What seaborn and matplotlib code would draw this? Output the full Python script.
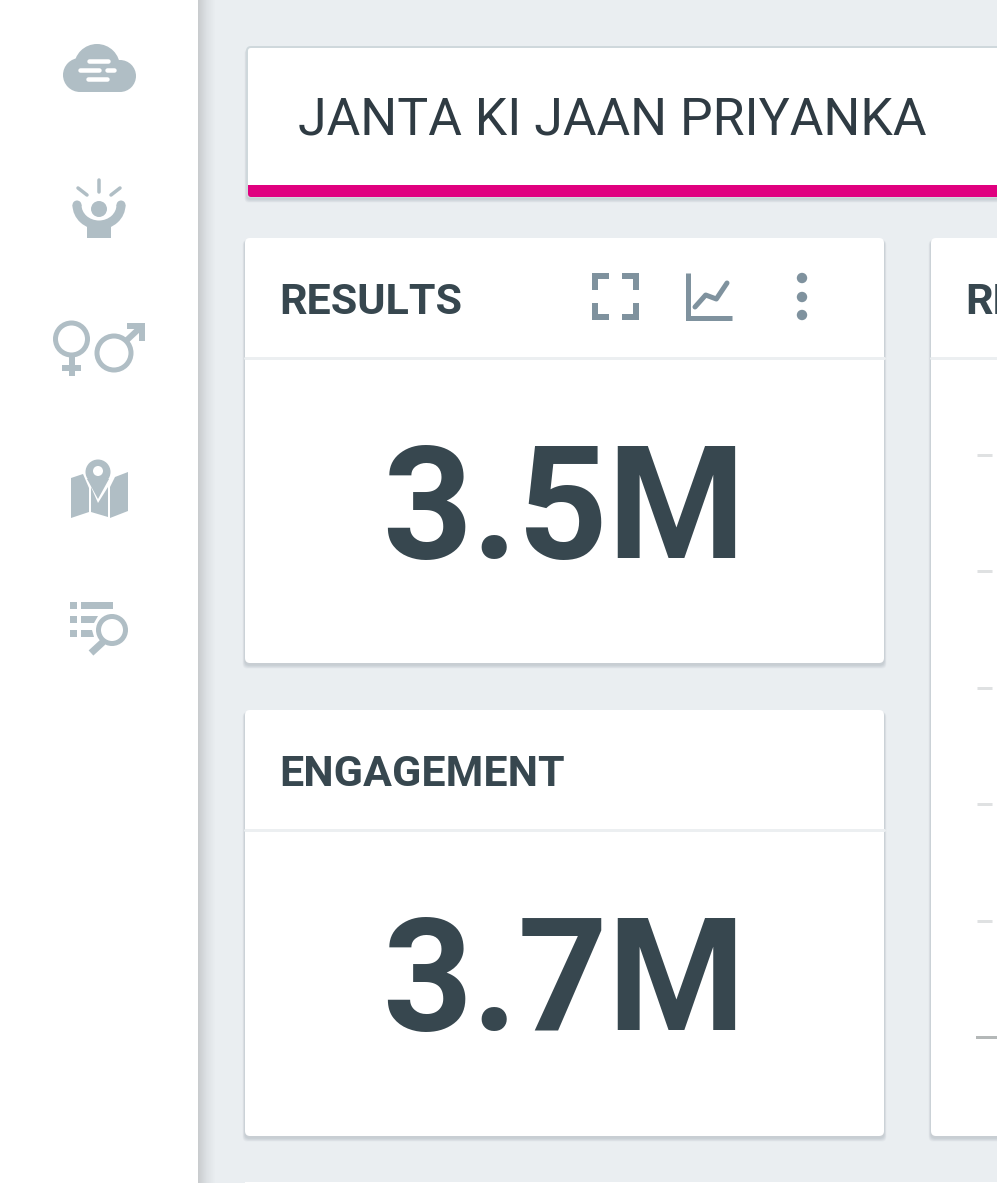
# -*- coding: utf-8 -*-
"""Campaign dashboard screenshot: header, two KPI cards and the edge of a chart card."""

import matplotlib
matplotlib.use("Agg")
import matplotlib.pyplot as plt
import pandas as pd
import seaborn as sns
from matplotlib.patches import Arc, Circle, FancyBboxPatch, Polygon, Rectangle

W, H = 997, 1183

HEADER_TITLE = "JANTA KI JAAN PRIYANKA"
KPI_LABELS = ["RESULTS", "ENGAGEMENT"]
KPI_VALUES = ["3.5M", "3.7M"]
CUT_CARD_LABEL = "RE"
AXIS_TICKS = [0, 1, 2, 3, 4, 5]
TREND_X = [0, 1, 2, 3]
TREND_Y = [0, 12, 8, 24]

BG = "#EAEEF1"
INK = "#37474F"
ICON = "#B0BEC5"
ICON_DARK = "#7F929E"
PINK = "#E0007F"
DIVIDER = "#ECEFF1"

sns.set_theme(style="white")
plt.rcParams["font.family"] = ["Roboto", "DejaVu Sans"]

fig = plt.figure(figsize=(W / 100, H / 100), dpi=100, facecolor=BG)
ax = fig.add_axes([0, 0, 1, 1])
ax.set_xlim(0, W)
ax.set_ylim(H, 0)
ax.axis("off")


def px(n):
    # pixel width -> points
    return n * 0.72


def card(x0, y0, x1, y1, radius=5, z=2):
    for i in range(6, 0, -1):
        ax.add_patch(FancyBboxPatch((x0 - i * 0.4, y0 + 2), x1 - x0 + i * 0.8, y1 - y0 + i * 0.6,
                                    boxstyle=f"round,pad=0,rounding_size={radius}",
                                    fc="#455A64", ec="none", alpha=0.035, zorder=z))
    ax.add_patch(FancyBboxPatch((x0, y0), x1 - x0, y1 - y0,
                                boxstyle=f"round,pad=0,rounding_size={radius}",
                                fc="white", ec="none", zorder=z + 0.1))


def seg(pts, color=ICON, lw=4, cap="butt", z=6):
    xs, ys = zip(*pts)
    ax.plot(xs, ys, color=color, lw=px(lw), solid_capstyle=cap, solid_joinstyle="miter", zorder=z)


def poly(pts, color=ICON, z=6):
    ax.add_patch(Polygon(pts, closed=True, fc=color, ec="none", zorder=z))


def rect(x0, y0, x1, y1, color=ICON, z=6):
    ax.add_patch(Rectangle((x0, y0), x1 - x0, y1 - y0, fc=color, ec="none", zorder=z))


def ring(cx, cy, r, w, color=ICON, z=6):
    ax.add_patch(Circle((cx, cy), r - w / 2, fc="none", ec=color, lw=px(w), zorder=z))


# sidebar and its shadow
rect(0, 0, 198, H, "white", z=1)
shades = sns.blend_palette(["#C9CCCE", "#DDE1E4", BG], 18)
for i, shade in enumerate(shades):
    rect(198 + i, 0, 199.5 + i, H, shade, z=1)

# cloud
ax.add_patch(Circle((97, 67), 23, fc=ICON, ec="none", zorder=6))
ax.add_patch(Circle((80, 75), 17, fc=ICON, ec="none", zorder=6))
ax.add_patch(Circle((120, 76), 16, fc=ICON, ec="none", zorder=6))
rect(80, 72, 120, 92)
seg([(89, 61), (108, 61)], "white", 4.5, "round", 7)
seg([(80, 70), (99, 70)], "white", 4.5, "round", 7)
seg([(107, 70), (114, 70)], "white", 4.5, "round", 7)
seg([(88, 79), (107, 79)], "white", 4.5, "round", 7)

# person with raised arms
seg([(99, 180), (99, 192)], lw=3.5, cap="round")
seg([(78, 188), (87, 195)], lw=3.5, cap="round")
seg([(120, 188), (111, 195)], lw=3.5, cap="round")
ax.add_patch(Circle((99, 209), 8, fc=ICON, ec="none", zorder=6))
ax.add_patch(Arc((99, 205), 44, 40, theta1=0, theta2=180, ec=ICON, lw=px(9), zorder=6))
ax.add_patch(Circle((77, 205), 4.5, fc=ICON, ec="none", zorder=6))
ax.add_patch(Circle((121, 205), 4.5, fc=ICON, ec="none", zorder=6))
poly([(87, 224), (111, 224), (111, 238), (87, 238)])

# female / male
ring(71.5, 339, 18.5, 5)
rect(69, 357, 74.5, 376)
rect(62, 365, 81, 371)
ring(114, 353, 19.5, 5)
seg([(127, 340), (142, 326)], lw=6)
rect(127, 323, 145, 329)
rect(139, 323, 145, 341)

# map with pin
poly([(71, 478), (83, 474), (89, 488), (89, 512), (71, 518)])
poly([(91, 487), (98, 503), (108, 487), (108, 517), (91, 512)])
poly([(110, 487), (115, 477), (128, 472), (128, 511), (110, 518)])
poly([(87, 479), (98, 499), (109, 479)], z=7)
ax.add_patch(Circle((98, 472), 12.5, fc=ICON, ec="none", zorder=7))
ax.add_patch(Circle((98, 471), 5, fc="white", ec="none", zorder=8))

# list search
for y in (602, 616, 630):
    rect(70, y, 77, y + 7)
rect(81, 602, 113, 609)
poly([(81, 616), (98, 616), (94, 623), (81, 623)])
poly([(81, 630), (92, 630), (94, 637), (81, 637)])
ring(112, 630, 16, 5)
seg([(103, 642), (91, 653)], lw=7)

# cards
card(247, 47, 1020, 197, radius=4)
ax.add_patch(FancyBboxPatch((247, 47), 780, 150, boxstyle="round,pad=0,rounding_size=4",
                            fc="none", ec="#CFD8DC", lw=px(2), zorder=2.2))
ax.add_patch(FancyBboxPatch((248, 185), 780, 12, boxstyle="round,pad=0,rounding_size=3",
                            fc=PINK, ec="none", zorder=3))
rect(248, 185, 260, 190, PINK, z=3)
ax.text(298, 134, HEADER_TITLE, fontsize=px(51.8), color="#2F3B43", fontweight="normal",
        va="baseline", ha="left", zorder=5)

card(245, 238, 884, 663)
card(245, 710, 884, 1136)
card(931, 238, 1040, 1136)
rect(245, 1182, 997, 1184, "white", z=3)

card_tops = [238, 710]
for label, value, top in zip(KPI_LABELS, KPI_VALUES, card_tops):
    ax.text(279.5, top + 76, label, fontsize=px(43), fontweight="bold", color=INK,
            va="baseline", ha="left", zorder=5)
    ax.plot([245, 884], [top + 120, top + 120], color=DIVIDER, lw=px(3), zorder=4)
    ax.text(563.5, top + 320, value, fontsize=px(157), fontweight="bold", color=INK,
            va="baseline", ha="center", zorder=5)

ax.text(965, 314, CUT_CARD_LABEL, fontsize=px(43), fontweight="bold", color=INK,
        va="baseline", ha="left", zorder=5)
ax.plot([931, 997], [358, 358], color=DIVIDER, lw=px(3), zorder=4)

# header icons
for xs, ys in [((592, 609), (273, 290)), ((639, 622), (273, 290)),
               ((592, 609), (320, 303)), ((639, 622), (320, 303))]:
    ox = xs[0] + (3 if xs[1] > xs[0] else -3)
    oy = ys[0] + (3 if ys[1] > ys[0] else -3)
    seg([(xs[0], oy), (xs[1], oy)], ICON_DARK, 6)
    seg([(ox, ys[0]), (ox, ys[1])], ICON_DARK, 6)

seg([(687.5, 273), (687.5, 317.5), (732, 317.5)], ICON_DARK, 5)
for y in (278, 297, 315):
    ax.add_patch(Circle((802, y), 5.2, fc=ICON_DARK, ec="none", zorder=6))


def inset(x0, y0, x1, y1):
    a = fig.add_axes([x0 / W, 1 - y1 / H, (x1 - x0) / W, (y1 - y0) / H], zorder=10)
    a.patch.set_alpha(0)
    return a


# small trend line inside the chart icon
trend = pd.DataFrame({"x": TREND_X, "y": TREND_Y})
ax_trend = inset(695, 283, 727, 307)
sns.lineplot(data=trend, x="x", y="y", ax=ax_trend, color=ICON_DARK, lw=px(5), legend=False)
ax_trend.set_xlim(0, 3)
ax_trend.set_ylim(0, 24)
ax_trend.axis("off")
for line in ax_trend.lines:
    line.set_clip_on(False)

# y axis ticks of the cut off chart card
ax_ticks = inset(977, 455, 997, 1037)
ax_ticks.set_xlim(0, 1)
ax_ticks.set_ylim(0, 5)
ax_ticks.set_xticks([])
ax_ticks.set_yticks(AXIS_TICKS)
ax_ticks.set_yticklabels([])
ax_ticks.tick_params(axis="y", direction="in", length=px(15), width=px(3), color="#DFE1E2", left=True)
sns.despine(ax=ax_ticks, left=True, top=True, right=True, bottom=False)
ax_ticks.spines["bottom"].set_color("#B4B8B8")
ax_ticks.spines["bottom"].set_linewidth(px(3))

fig.savefig("out.png", dpi=100, facecolor=BG)
plt.close(fig)
